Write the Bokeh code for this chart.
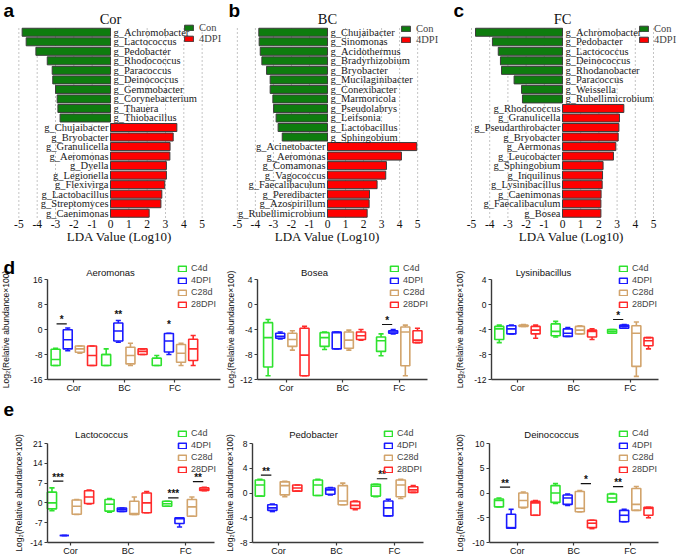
import numpy as np
from bokeh.plotting import figure
from bokeh.models import Range1d, FixedTicker, Label
from bokeh.layouts import row, column
from bokeh.embed import file_html
from bokeh.resources import INLINE
from bokeh.core.properties import value

SERIF = "Liberation Serif"
SANS = "Liberation Sans"

# ---------------- LDA data ----------------
COR_CON_NAMES = ["g_Achromobacter", "g_Lactococcus", "g_Pedobacter", "g_Rhodococcus", "g_Paracoccus",
                 "g_Deinococcus", "g_Gemmobacter", "g_Corynebacterium", "g_Thauera", "g_Thiobacillus"]
COR_CON_LDA = [-4.82, -4.60, -4.07, -3.45, -3.18, -3.15, -3.00, -2.91, -2.87, -2.75]
COR_DPI_NAMES = ["g_Chujaibacter", "g_Bryobacter", "g_Granulicella", "g_Aeromonas", "g_Dyella",
                 "g_Legionella", "g_Flexivirga", "g_Lactobacillus", "g_Streptomyces", "g_Caenimonas"]
COR_DPI_LDA = [3.62, 3.42, 3.25, 3.24, 3.05, 3.05, 2.96, 2.80, 2.75, 2.11]

BC_CON_NAMES = ["g_Chujaibacter", "g_Sinomonas", "g_Acidothermus", "g_Bradyrhizobium", "g_Bryobacter",
                "g_Mucilaginibacter", "g_Conexibacter", "g_Marmoricola", "g_Pseudolabrys", "g_Leifsonia",
                "g_Lactobacillus", "g_Sphingobium"]
BC_CON_LDA = [-3.81, -3.79, -3.73, -3.64, -3.38, -3.18, -3.18, -3.03, -2.99, -2.85, -2.74, -2.51]
BC_DPI_NAMES = ["g_Acinetobacter", "g_Aeromonas", "g_Comamonas", "g_Vagococcus", "g_Faecalibaculum",
                "g_Peredibacter", "g_Azospirillum", "g_Rubellimicrobium"]
BC_DPI_LDA = [4.95, 4.10, 3.27, 3.23, 2.75, 2.33, 2.31, 2.20]

FC_CON_NAMES = ["g_Achromobacter", "g_Pedobacter", "g_Lactococcus", "g_Deinococcus", "g_Rhodanobacter",
                "g_Paracoccus", "g_Weissella", "g_Rubellimicrobium"]
FC_CON_LDA = [-4.78, -3.85, -3.53, -3.41, -3.35, -2.66, -2.25, -2.20]
FC_DPI_NAMES = ["g_Rhodococcus", "g_Granulicella", "g_Pseudarthrobacter", "g_Bryobacter", "g_Aermonas",
                "g_Leucobacter", "g_Sphingobium", "g_Inquilinus", "g_Lysinibacillus", "g_Caenimonas",
                "g_Faecalibaculum", "g_Bosea"]
FC_DPI_LDA = [3.37, 3.13, 3.10, 3.06, 2.93, 2.80, 2.23, 2.20, 2.18, 2.12, 2.11, 2.11]

LDA_TICKS = [-5, -4, -3, -2, -1, 0, 1, 2, 3, 4, 5]

# ---------------- box plot data (order: Cor, BC, FC x C4d, 4DPI, C28d, 28DPI) ----------------
SITES = ["Cor", "BC", "FC"]
GROUPS = ["C4d", "4DPI", "C28d", "28DPI"]

AER_LOW = [-11.5, -6.8, -7.6, -11.5, -11.5, -4.1, -11.5, -8.0, -11.5, -8.0, -11.5, -11.5]
AER_Q1 = [-11.5, -6.2, -7.3, -11.5, -11.5, -3.7, -11.0, -8.0, -11.5, -7.2, -10.5, -9.9]
AER_MED = [-9.6, -3.3, -6.2, -8.3, -8.0, -0.5, -8.3, -7.0, -9.2, -3.7, -7.6, -6.2]
AER_Q3 = [-6.3, -0.1, -5.3, -5.3, -8.0, 2.1, -5.7, -6.2, -9.2, -1.3, -4.8, -3.1]
AER_HIGH = [-6.0, 0.5, -5.3, -5.3, -6.2, 2.9, -4.4, -6.2, -8.3, -1.2, -4.4, -1.9]
AER_TICKS = [-16, -8, 0, 8, 16]

BOS_LOW = [-11.4, -5.5, -7.3, -11.4, -7.2, -7.1, -7.3, -5.7, -8.2, -4.7, -11.4, -6.1]
BOS_Q1 = [-10.0, -5.4, -6.7, -11.4, -6.7, -7.1, -7.0, -5.6, -7.5, -4.6, -9.8, -6.1]
BOS_MED = [-5.3, -5.1, -5.6, -8.1, -5.3, -4.5, -5.7, -5.0, -5.8, -4.4, -4.4, -5.7]
BOS_Q3 = [-2.9, -4.6, -4.6, -3.8, -4.5, -4.4, -4.4, -4.4, -5.2, -4.2, -3.6, -4.2]
BOS_HIGH = [-2.4, -4.4, -4.2, -3.5, -4.4, -4.4, -4.1, -4.0, -4.7, -4.0, -3.3, -3.8]
BOS_TICKS = [-12, -8, -4, 0, 4]

LYS_LOW = [-6.1, -4.7, -3.5, -5.4, -5.2, -5.1, -4.7, -5.6, -4.6, -3.8, -11.5, -7.1]
LYS_Q1 = [-5.6, -4.7, -3.5, -4.7, -5.0, -5.1, -4.7, -5.2, -4.6, -3.8, -9.9, -6.6]
LYS_MED = [-3.9, -3.9, -3.4, -4.1, -4.3, -4.6, -4.1, -4.3, -4.3, -3.5, -4.6, -5.8]
LYS_Q3 = [-3.5, -3.4, -3.3, -3.5, -3.1, -3.9, -3.5, -4.1, -4.0, -3.3, -3.4, -5.3]
LYS_HIGH = [-3.3, -3.3, -3.2, -3.3, -2.7, -3.7, -3.4, -3.9, -4.0, -3.2, -2.8, -5.3]
LYS_TICKS = [-12, -8, -4, 0, 4]

LAC_LOW = [-2.8, -11.5, -4.1, -0.4, -3.3, -3.0, -4.1, -3.5, -1.2, -8.5, -4.7, 4.3]
LAC_Q1 = [-2.1, -11.5, -4.0, -0.2, -2.9, -3.0, -4.1, -3.5, -1.2, -7.3, -4.7, 4.4]
LAC_MED = [0.0, -11.5, -1.2, 2.1, -0.5, -2.3, -3.8, 0.0, -0.3, -5.6, -1.4, 4.7]
LAC_Q3 = [3.8, -11.5, 1.0, 4.3, 1.2, -1.8, 0.6, 3.5, 0.6, -5.3, 1.2, 5.3]
LAC_HIGH = [5.3, -11.5, 1.2, 4.5, 1.5, -1.8, 2.1, 4.0, 0.6, -5.3, 2.1, 5.5]
LAC_TICKS = [-14, -7, 0, 7, 14, 21]

PED_LOW = [-0.5, -3.0, -0.6, 0.3, -0.4, -0.3, -1.9, -2.7, -0.6, -3.7, -0.9, 0.1]
PED_Q1 = [-0.5, -2.8, -0.3, 0.3, -0.4, -0.2, -1.9, -2.5, -0.5, -3.7, -0.6, 0.1]
PED_MED = [1.3, -2.4, 1.2, 0.8, 1.3, 0.5, -1.3, -2.0, 1.1, -2.4, 1.3, 0.5]
PED_Q3 = [2.1, -1.9, 1.8, 1.3, 2.1, 0.8, 1.2, -1.4, 1.4, -1.3, 2.1, 1.0]
PED_HIGH = [2.2, -1.8, 1.9, 1.3, 2.2, 0.9, 1.6, -1.3, 1.4, -1.0, 2.2, 1.2]
PED_TICKS = [-8, -4, 0, 4, 8]

DEI_LOW = [-2.8, -7.1, -3.0, -4.5, -2.1, -2.5, -3.8, -7.2, -1.8, -5.8, -3.5, -5.0]
DEI_Q1 = [-2.8, -7.1, -2.9, -4.5, -1.9, -2.3, -3.8, -7.0, -1.8, -5.8, -3.5, -4.5]
DEI_MED = [-1.5, -7.0, -1.5, -2.0, 0.0, -1.0, -3.1, -6.1, -1.0, -4.5, -2.3, -3.1]
DEI_Q3 = [-1.2, -4.3, 0.0, -1.7, 1.5, -0.4, 0.3, -5.5, -0.2, -3.5, 0.9, -2.9]
DEI_HIGH = [-1.0, -3.3, 0.2, -1.5, 1.9, -0.2, 0.5, -5.5, -0.1, -3.3, 1.3, -2.9]
DEI_TICKS = [-10, -5, 0, 5, 10]

# significance marks: site (1..3), group a, group b, y (line / star baseline), text
AER_SIG = ([1, 2, 3], [0, 1, 1], [1, 1, 1], [1.8, 3.6, 0.2], ["*", "**", "*"])
BOS_SIG = ([3], [0], [1], [-3.2], ["*"])
LYS_SIG = ([3], [0], [1], [-2.4], ["*"])
LAC_SIG = ([1, 3, 3], [0, 0, 2], [1, 1, 3], [7.7, 1.8, 7.5], ["***", "***", "**"])
PED_SIG = ([1, 3], [0, 0], [1, 1], [2.9, 2.3], ["**", "**"])
DEI_SIG = ([1, 2, 3], [0, 2, 0], [1, 3, 1], [1.2, 1.9, 1.3], ["**", "*", "**"])

GREEN_BAR = "#0e7c0e"
RED_BAR = "#ff0000"
GROUP_COLORS = ["#2ee22e", "#1a1aff", "#d2a46c", "#ff2a2a"]
AXIS_C = "#3a3a3a"


def ranges(W, H, xa_px, xa_val, xb_px, xb_val, ya_px, ya_val, yb_px, yb_val):
    """Map two reference pixel positions per axis onto data values; the frame is the whole canvas."""
    kx = (xb_px - xa_px) / (xb_val - xa_val)
    x0 = xa_val - xa_px / kx
    ky = (yb_px - ya_px) / (ya_val - yb_val)
    y1 = ya_val + ya_px / ky
    return Range1d(x0, x0 + W / kx), Range1d(y1 - H / ky, y1)


def new_fig(W, H, xr, yr):
    p = figure(width=W, height=H, x_range=xr, y_range=yr, output_backend="svg",
               toolbar_location=None, min_border=0, min_border_left=0, min_border_right=0,
               min_border_top=0, min_border_bottom=0)
    p.title.visible = False
    p.grid.visible = False
    p.outline_line_color = None
    return p


def put_label(p, H, cx, cy, text, **kw):
    p.add_layout(Label(x=cx, y=H - cy, x_units="screen", y_units="screen", text=text, **kw))


def lda_panel(letter, title, con_n, con_v, dpi_n, dpi_v, W, zero, ppu, lab_hi, leg_x, leg_top):
    H = 258
    names = con_n + dpi_n
    n = len(names)
    ypos = (n - 1 - np.arange(n)).astype(float)
    yc = ypos[:len(con_n)]
    yd = ypos[len(con_n):]
    xr, yr = ranges(W, H, zero, 0, zero + ppu, 1, 27, n - 0.5, 217.5, -0.5)
    p = new_fig(W, H, xr, yr)
    p.segment(x0=LDA_TICKS, y0=-0.5, x1=LDA_TICKS, y1=n - 0.5, line_color="#c4c4c4",
              line_dash="2 2", line_width=1)
    p.hbar(y=yc, left=0, right=con_v, height=0.84, fill_color=GREEN_BAR,
           line_color="#3c3c3c", line_width=1, legend_label="Con")
    p.hbar(y=yd, left=0, right=dpi_v, height=0.84, fill_color=RED_BAR,
           line_color="#3c3c3c", line_width=1, legend_label="4DPI")
    p.text(x=np.zeros(len(con_n)), y=yc, text=con_n, x_offset=3, text_align="left",
           text_baseline="middle", text_font=value(SERIF), text_font_size="10.5px", text_color="#1a1a1a")
    p.text(x=np.zeros(len(dpi_n)), y=yd, text=dpi_n, x_offset=-2, text_align="right",
           text_baseline="middle", text_font=value(SERIF), text_font_size="10.5px", text_color="#1a1a1a")
    p.yaxis.visible = False
    ax = p.xaxis[0]
    ax.fixed_location = -0.5
    ax.bounds = (-5, lab_hi)
    ax.ticker = FixedTicker(ticks=LDA_TICKS)
    ax.major_label_overrides = {t: str(t) for t in LDA_TICKS}
    ax.axis_line_color = None
    ax.major_tick_line_color = None
    ax.major_tick_out = 0
    ax.major_tick_in = 0
    ax.minor_tick_line_color = None
    ax.major_label_text_font = SERIF
    ax.major_label_text_font_size = "11.5px"
    ax.major_label_text_color = "#111111"
    ax.major_label_standoff = 2
    ax.axis_label = "LDA Value (Log10)"
    ax.axis_label_text_font = SERIF
    ax.axis_label_text_font_size = "13px"
    ax.axis_label_text_font_style = "normal"
    ax.axis_label_text_color = "#111111"
    ax.axis_label_standoff = -3
    lg = p.legend[0]
    lg.location = (leg_x, H - leg_top - 22)
    lg.label_text_font = SERIF
    lg.label_text_font_size = "10.5px"
    lg.glyph_width = 11
    lg.glyph_height = 7
    lg.label_height = 11
    lg.label_standoff = 5
    lg.spacing = 0
    lg.padding = 0
    lg.margin = 0
    lg.border_line_color = None
    lg.background_fill_alpha = 0
    p.add_layout(Label(x=0, y=H - 18, x_units="data", y_units="screen", text=title,
                       text_align="center", text_baseline="alphabetic", text_font=SERIF,
                       text_font_size="14.5px", text_color="#111111"))
    put_label(p, H, 3, 10, letter, text_font=SANS, text_font_size="19px", text_font_style="bold",
              text_color="#000000", text_baseline="alphabetic")
    return p


def box_panel(letter, title, low, q1, med, q3, high, yticks, W, H, axis_px, x_lo, x_hi, right_px, top_px,
              bot_px, sp, ylab_so, sig, title_cx, title_base, leg_x, leg_top, letter_base):
    xr, yr = ranges(W, H, axis_px, x_lo, right_px, x_hi, top_px, yticks[-1], bot_px, yticks[0])
    p = new_fig(W, H, xr, yr)
    low = np.array(low); q1 = np.array(q1); med = np.array(med); q3 = np.array(q3); high = np.array(high)
    site_idx = np.repeat(np.arange(1, 4), 4)
    grp_idx = np.tile(np.arange(4), 3)
    xc = site_idx + (grp_idx - 1.5) * sp
    bw = 0.74 * sp
    cw = 0.42 * sp
    for gi in range(4):
        m = grp_idx == gi
        c = GROUP_COLORS[gi]
        p.quad(left=xc[m] - bw / 2, right=xc[m] + bw / 2, bottom=q1[m], top=q3[m],
               fill_color=None, line_color=c, line_width=1.6, legend_label=GROUPS[gi])
        x0 = np.concatenate([xc[m], xc[m], xc[m] - cw / 2, xc[m] - cw / 2, xc[m] - bw / 2])
        x1 = np.concatenate([xc[m], xc[m], xc[m] + cw / 2, xc[m] + cw / 2, xc[m] + bw / 2])
        y0 = np.concatenate([q3[m], q1[m], high[m], low[m], med[m]])
        y1 = np.concatenate([high[m], low[m], high[m], low[m], med[m]])
        p.segment(x0=x0, y0=y0, x1=x1, y1=y1, line_color=c, line_width=1.6)
    s_site, s_a, s_b, s_y, s_t = sig
    s_site = np.array(s_site); s_a = np.array(s_a); s_b = np.array(s_b); s_y = np.array(s_y)
    xa = s_site + (s_a - 1.5) * sp
    xb = s_site + (s_b - 1.5) * sp
    mid = (xa + xb) / 2
    hl = s_a != s_b
    half = 0.42 * (xb - xa)
    if hl.any():
        p.segment(x0=(mid - half)[hl], y0=s_y[hl], x1=(mid + half)[hl], y1=s_y[hl],
                  line_color="#111111", line_width=1.2)
    p.text(x=mid, y=s_y, text=s_t, text_align="center", text_baseline="alphabetic", y_offset=-4,
           text_font=value(SANS), text_font_size="10px", text_font_style="bold", text_color="#111111")
    for ax in (p.xaxis[0], p.yaxis[0]):
        ax.axis_line_color = AXIS_C
        ax.axis_line_width = 1.4
        ax.major_tick_line_color = AXIS_C
        ax.major_tick_line_width = 1.2
        ax.major_tick_out = 3
        ax.major_tick_in = 0
        ax.minor_tick_line_color = None
        ax.major_label_text_font = SANS
        ax.major_label_text_color = "#111111"
        ax.major_label_standoff = 2
    xa_ = p.xaxis[0]
    xa_.fixed_location = yticks[0]
    xa_.bounds = (x_lo, x_hi)
    xa_.ticker = FixedTicker(ticks=[1, 2, 3])
    xa_.major_label_overrides = {1: SITES[0], 2: SITES[1], 3: SITES[2]}
    xa_.major_label_text_font_size = "9px"
    xa_.major_label_standoff = 0
    ya = p.yaxis[0]
    ya.fixed_location = x_lo
    ya.bounds = (yticks[0], yticks[-1])
    ya.ticker = FixedTicker(ticks=yticks)
    ya.major_label_overrides = {t: str(t) for t in yticks}
    ya.major_label_text_font_size = "8.5px"
    ya.axis_label = "Log\u2082(Relative abundance\u00d7100)"
    ya.axis_label_text_font = SANS
    ya.axis_label_text_font_size = "8.5px"
    ya.axis_label_text_font_style = "normal"
    ya.axis_label_text_color = "#111111"
    ya.axis_label_standoff = ylab_so
    lg = p.legend[0]
    lg.location = (leg_x, H - leg_top - 48)
    lg.label_text_font = SANS
    lg.label_text_font_size = "9px"
    lg.glyph_width = 10
    lg.glyph_height = 7
    lg.label_height = 12
    lg.label_standoff = 4
    lg.spacing = 0
    lg.padding = 0
    lg.margin = 0
    lg.border_line_color = None
    lg.background_fill_alpha = 0
    put_label(p, H, title_cx, title_base, title, text_font=SANS, text_font_size="9.5px",
              text_align="center", text_baseline="alphabetic", text_color="#111111")
    if letter:
        put_label(p, H, 3, letter_base, letter, text_font=SANS, text_font_size="19px",
                  text_font_style="bold", text_color="#000000", text_baseline="alphabetic")
    return p


pa = lda_panel("a", "Cor", COR_CON_NAMES, COR_CON_LDA, COR_DPI_NAMES, COR_DPI_LDA, 225, 110, 18.33, 6, 183, 22)
pb = lda_panel("b", "BC", BC_CON_NAMES, BC_CON_LDA, BC_DPI_NAMES, BC_DPI_LDA, 225, 102, 18.03, 5, 175, 23)
pc = lda_panel("c", "FC", FC_CON_NAMES, FC_CON_LDA, FC_DPI_NAMES, FC_DPI_LDA, 235, 112, 18.2, 6, 188, 23)

HD, HE = 139, 159
d1 = box_panel("d", "Aeromonas", AER_LOW, AER_Q1, AER_MED, AER_Q3, AER_HIGH, AER_TICKS, 225, HD,
               47, 0.48, 3.9, 220, 21, 121, 0.24, 16, AER_SIG, 110, 13.5, 177, 4, 9)
d2 = box_panel("", "Bosea", BOS_LOW, BOS_Q1, BOS_MED, BOS_Q3, BOS_HIGH, BOS_TICKS, 225, HD,
               32, 0.49, 3.5, 202, 21, 121, 0.215, 1, BOS_SIG, 89, 13.5, 164, 4, 9)
d3 = box_panel("", "Lysinibacillus", LYS_LOW, LYS_Q1, LYS_MED, LYS_Q3, LYS_HIGH, LYS_TICKS, 235, HD,
               41, 0.54, 3.5, 208, 21, 121, 0.215, 6, LYS_SIG, 93, 13.5, 168, 4, 9)
e1 = box_panel("e", "Lactococcus", LAC_LOW, LAC_Q1, LAC_MED, LAC_Q3, LAC_HIGH, LAC_TICKS, 225, HE,
               47, 0.6, 3.5, 214, 46, 145, 0.215, 3, LAC_SIG, 101, 36.5, 177, 30, 12)
e2 = box_panel("", "Pedobacter", PED_LOW, PED_Q1, PED_MED, PED_Q3, PED_HIGH, PED_TICKS, 225, HE,
               27, 0.55, 3.5, 198, 46, 145, 0.215, 2, PED_SIG, 88, 36.5, 158, 30, 12)
e3 = box_panel("", "Deinococcus", DEI_LOW, DEI_Q1, DEI_MED, DEI_Q3, DEI_HIGH, DEI_TICKS, 235, HE,
               39, 0.51, 3.5, 208, 46, 145, 0.215, 4, DEI_SIG, 101, 36.5, 168, 30, 12)

layout = column(row(pa, pb, pc), row(d1, d2, d3), row(e1, e2, e3))

open("out.html", "w").write(file_html(layout, INLINE))
